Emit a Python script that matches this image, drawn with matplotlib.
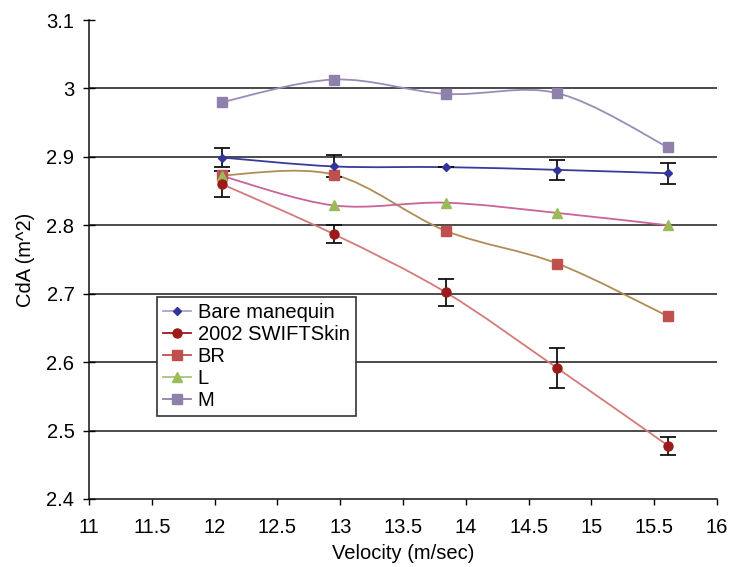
import matplotlib.pyplot as plt
from matplotlib.path import Path
from matplotlib.patches import PathPatch
from matplotlib.lines import Line2D

plt.rcParams['font.family'] = ['Liberation Sans', 'DejaVu Sans']

velocity = [12.06, 12.95, 13.84, 14.73, 15.61]

bare = [2.899, 2.886, 2.885, 2.881, 2.876]
bare_err = [0.014, 0.016, 0.0, 0.015, 0.015]
swift = [2.860, 2.787, 2.702, 2.591, 2.478]
swift_err = [0.019, 0.013, 0.020, 0.029, 0.013]
br = [2.873, 2.874, 2.792, 2.744, 2.667]
l_suit = [2.872, 2.829, 2.833, 2.818, 2.800]
m_suit = [2.980, 3.013, 2.992, 2.993, 2.914]

labels = ["Bare manequin", "2002 SWIFTSkin", "BR", "L", "M"]
yticks = [2.4, 2.5, 2.6, 2.7, 2.8, 2.9, 3.0, 3.1]
ytick_labels = ["2.4", "2.5", "2.6", "2.7", "2.8", "2.9", "3", "3.1"]
xticks = [11, 11.5, 12, 12.5, 13, 13.5, 14, 14.5, 15, 15.5, 16]
xtick_labels = ["11", "11.5", "12", "12.5", "13", "13.5", "14", "14.5", "15", "15.5", "16"]

FS = 14.5


def smooth_path(xs, ys):
    # Excel style smoothed line: cubic bezier segments (catmull-rom control points)
    pts = list(zip(xs, ys))
    verts = [pts[0]]
    codes = [Path.MOVETO]
    n = len(pts)
    for i in range(n - 1):
        p0 = pts[i - 1] if i > 0 else pts[i]
        p1 = pts[i]
        p2 = pts[i + 1]
        p3 = pts[i + 2] if i + 2 < n else pts[i + 1]
        c1 = (p1[0] + (p2[0] - p0[0]) / 6, p1[1] + (p2[1] - p0[1]) / 6)
        c2 = (p2[0] - (p3[0] - p1[0]) / 6, p2[1] - (p3[1] - p1[1]) / 6)
        verts += [c1, c2, p2]
        codes += [Path.CURVE4] * 3
    return Path(verts, codes)


fig = plt.figure(figsize=(7.31, 5.67), dpi=100)
ax = fig.add_axes([89 / 731, 1 - 499 / 567, 628 / 731, 479 / 567])

for yv in yticks[1:-1]:
    ax.axhline(yv, color='#1a1a1a', lw=1.1, zorder=1)

# series: (values, line colour, marker, marker colour, marker size)
series = [
    (m_suit, '#9a8cb6', 's', '#8f80ac', 7.5),
    (br, '#b08d55', 's', '#c0504d', 7.5),
    (l_suit, '#c8649a', '^', '#9bbb59', 7.5),
    (swift, '#d47a7a', 'o', '#9b1b1b', 6.5),
    (bare, '#3a3a9a', 'D', '#333399', 4.5),
]
for vals, lc, mk, mc, ms in series:
    ax.add_patch(PathPatch(smooth_path(velocity, vals), facecolor='none',
                           edgecolor=lc, lw=1.3, zorder=2))
    ax.plot(velocity, vals, linestyle='none', marker=mk, color=mc,
            markersize=ms, zorder=4)

ax.errorbar(velocity, bare, yerr=bare_err, fmt='none', ecolor='#111111',
            elinewidth=1.3, capsize=5.5, capthick=1.3, zorder=3)
ax.errorbar(velocity, swift, yerr=swift_err, fmt='none', ecolor='#111111',
            elinewidth=1.3, capsize=5.5, capthick=1.3, zorder=3)

ax.set_xlim(11, 16)
ax.set_ylim(2.4, 3.1)
ax.set_xticks(xticks)
ax.set_xticklabels(xtick_labels)
ax.set_yticks(yticks)
ax.set_yticklabels(ytick_labels)
ax.tick_params(axis='y', direction='inout', length=9, width=1, labelsize=FS, pad=6)
ax.tick_params(axis='x', direction='out', length=4, width=1, labelsize=FS, pad=10)
ax.spines['top'].set_visible(False)
ax.spines['right'].set_visible(False)
for s in ['left', 'bottom']:
    ax.spines[s].set_color('#111111')
    ax.spines[s].set_linewidth(1.1)

ax.set_xlabel("Velocity (m/sec)", fontsize=FS, labelpad=5)
ax.set_ylabel("CdA (m^2)", fontsize=FS, labelpad=8)

handles = [
    Line2D([], [], color='#a8a4cc', marker='D', markerfacecolor='#333399',
           markeredgecolor='#333399', markersize=4.5, lw=1.3),
    Line2D([], [], color='#9b1b1b', marker='o', markersize=6.5, lw=1.3),
    Line2D([], [], color='#c0504d', marker='s', markersize=7.5, lw=1.3),
    Line2D([], [], color='#a9c47a', marker='^', markerfacecolor='#9bbb59',
           markeredgecolor='#9bbb59', markersize=7.5, lw=1.3),
    Line2D([], [], color='#8f80ac', marker='s', markersize=7.5, lw=1.3),
]
leg = ax.legend(handles, labels, loc='upper left', bbox_to_anchor=(0.109, 0.4216),
                fontsize=FS, frameon=True, fancybox=False, framealpha=1,
                edgecolor='#333333', handlelength=1.35, handletextpad=0.35,
                labelspacing=0.15, borderpad=0.3, borderaxespad=0)
leg.get_frame().set_linewidth(1.2)

fig.savefig('out.png', dpi=100)
